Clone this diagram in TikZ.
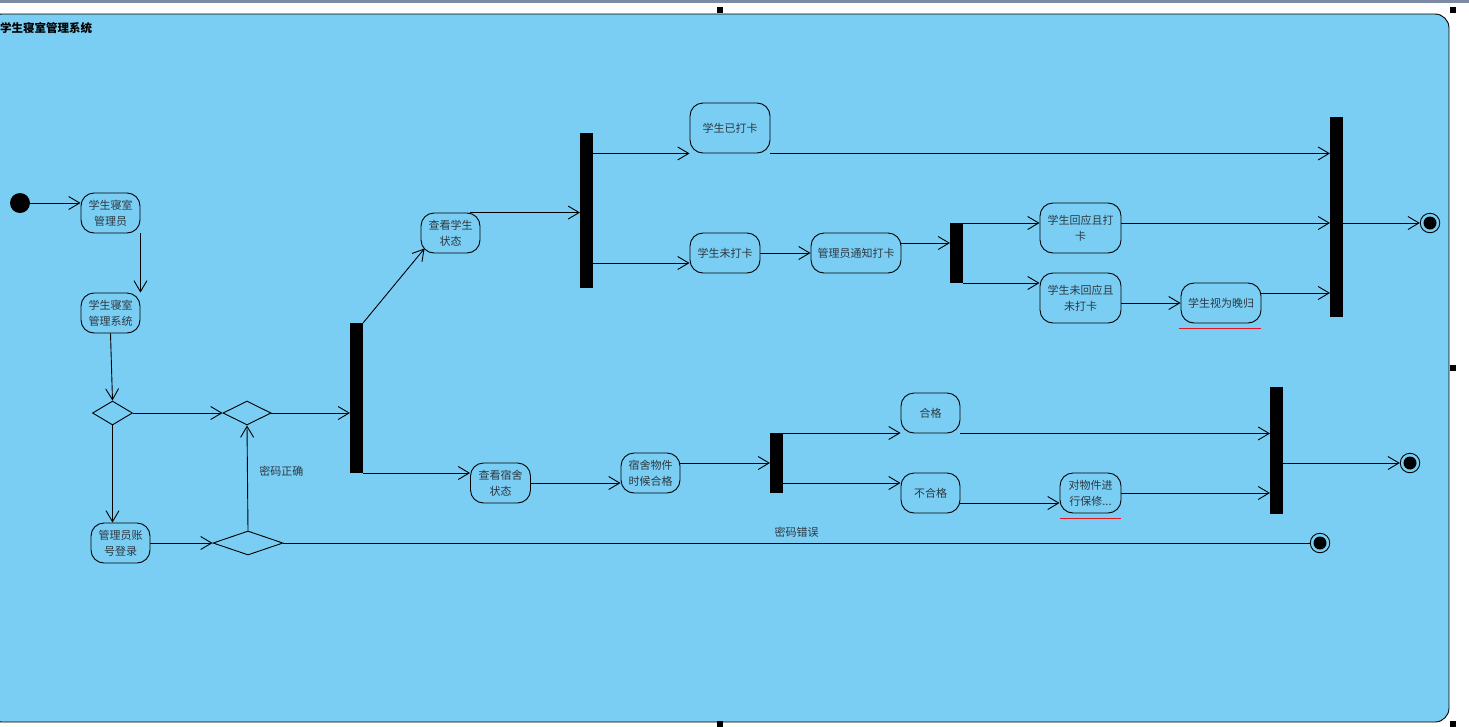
\documentclass[tikz,border=0pt]{standalone}
\usepackage{fontspec}
\newfontfamily\cjk{Noto Sans CJK SC}
\usetikzlibrary{arrows.meta,shapes.geometric,calc}
\definecolor{bgblue}{RGB}{122,206,244}
\definecolor{txtc}{RGB}{45,55,65}
\definecolor{topline}{RGB}{125,138,163}
\definecolor{spellred}{RGB}{230,20,30}
\begin{document}
\begin{tikzpicture}[x=1pt,y=-1pt,
  act/.style={draw, rounded corners=13pt, line width=0.9pt, inner sep=0pt, align=center, font=\cjk\fontsize{11}{16}\selectfont, text=txtc},
  bar/.style={fill=black, draw=none, inner sep=0pt, outer sep=0pt, minimum width=13pt},
  dec/.style={draw, diamond, line width=0.9pt, inner sep=0pt},
  fin/.style={circle, draw, line width=0.9pt, minimum size=19.5pt, inner sep=0pt, path picture={\fill[black] (path picture bounding box.center) circle (6.5pt);}},
  arr/.style={line width=0.9pt, -{Straight Barb[length=11pt,width=13pt]}},
  ln/.style={line width=0.9pt},
  lbl/.style={font=\cjk\fontsize{11}{14}\selectfont, text=txtc, inner sep=0pt},
  handle/.style={fill=black, minimum size=6pt, inner sep=0pt}
]
\useasboundingbox (0,0) rectangle (1469,726);
\fill[white] (0,0) rectangle (1469,726);
\fill[topline] (0,0) rectangle (1469,2.5);
% frame
\draw[fill=bgblue, line width=0.9pt, rounded corners=14pt] (-12,14) rectangle (1449,722);
\node[anchor=west, inner sep=0pt, font=\cjk\bfseries\fontsize{11.5}{14}\selectfont] (title) at (0,28) {学生寝室管理系统};

% handles
\node[handle] (h1) at (720,10) {};
\node[handle] (h2) at (1453,10) {};
\node[handle] (h3) at (1453,368) {};
\node[handle] (h4) at (720,724) {};
\node[handle] (h5) at (1453,724) {};

% start
\node[circle, fill=black, minimum size=20pt, inner sep=0pt] (start) at (20,203) {};
\node[act, minimum width=59pt, minimum height=40pt] (A1) at (110.5,213) {学生寝室\\管理员};
\node[act, minimum width=59pt, minimum height=40pt] (A2) at (110.5,313) {学生寝室\\管理系统};
\node[dec, minimum width=40pt, minimum height=24pt] (D1) at (112.5,413) {};
\node[dec, minimum width=48pt, minimum height=24pt] (D2) at (247,413) {};
\node[act, minimum width=59pt, minimum height=40pt] (A3) at (120.5,543) {管理员账\\号登录};
\node[dec, minimum width=70pt, minimum height=24pt] (D3) at (248,543) {};
\node[bar, minimum height=150pt] (bar1) at (356.5,398) {};
\node[act, minimum width=59pt, minimum height=40pt] (A4) at (450.5,233) {查看学生\\状态};
\node[act, minimum width=60pt, minimum height=40pt] (A5) at (500.5,483) {查看宿舍\\状态};

% upper branch
\node[bar, minimum height=155pt] (bar2) at (586.5,210.5) {};
\node[act, minimum width=80pt, minimum height=50pt] (B1) at (730,128) {学生已打卡};
\node[act, minimum width=70pt, minimum height=40pt] (B2) at (725,253) {学生未打卡};
\node[act, minimum width=90pt, minimum height=40pt] (B2b) at (856,253) {管理员通知打卡};
\node[bar, minimum height=60pt] (bar6) at (956.5,253) {};
\node[act, minimum width=81pt, minimum height=50pt] (B3) at (1080.5,228) {学生回应且打\\卡};
\node[act, minimum width=81pt, minimum height=50pt] (B4) at (1080.5,298) {学生未回应且\\未打卡};
\node[act, minimum width=80pt, minimum height=40pt] (B5) at (1221,303) {学生视为晚归};
\node[bar, minimum height=200pt] (bar3) at (1336.5,217) {};
\node[fin] (F1) at (1430,223) {};

% lower branch
\node[act, minimum width=59pt, minimum height=40pt] (C1) at (650.5,473) {宿舍物件\\时候合格};
\node[bar, minimum height=60pt] (bar5) at (776.5,463) {};
\node[act, minimum width=59pt, minimum height=40pt] (C2) at (930.5,413) {合格};
\node[act, minimum width=59pt, minimum height=40pt] (C3) at (930.5,493) {不合格};
\node[act, minimum width=61pt, minimum height=40pt] (C4) at (1090.5,493) {对物件进\\行保修...};
\node[bar, minimum height=127pt] (bar4) at (1276.5,450.5) {};
\node[fin] (F2) at (1410,463) {};
\node[fin] (F3) at (1320,543) {};

% red underlines
\coordinate (u1a) at ($(B5.south west)+(-2,5)$);
\coordinate (u1b) at ($(B5.south east)+(0,5)$);
\coordinate (u2a) at ($(C4.south west)+(0,5)$);
\coordinate (u2b) at ($(C4.south east)+(0,5)$);
\draw[draw=spellred, line width=1.8pt] (u1a) -- (u1b);
\draw[draw=spellred, line width=1.8pt] (u2a) -- (u2b);

% helper coordinates
\coordinate (a4o) at ($(A4.north east)+(-10,0)$);
\coordinate (b2i) at ($(B2.west)+(0,10)$);
\coordinate (b2bo) at ($(B2b.east)+(0,-10)$);
\coordinate (b3o) at ($(B3.east)+(0,-5)$);
\coordinate (b5o) at ($(B5.east)+(0,-10)$);
\coordinate (c1o) at ($(C1.east)+(0,-10)$);
\coordinate (c3i) at ($(C3.west)+(0,-10)$);
\coordinate (c3o) at ($(C3.east)+(0,10)$);
\coordinate (a4i) at ($(A4.south west)+(4,-5)$);

% connectors
\draw[arr] (start) -- (start -| A1.west);
\draw[arr] (A1.south east) -- (A2.north east);
\draw[arr] (A2.south) -- (D1.north);
\draw[arr] (D1.east) -- (D2.west);
\draw[arr] (D1.south) -- (D1.south |- A3.north);
\draw[arr] (A3.east) -- (D3.west);
\draw[arr] (D3.north) -- node[lbl, pos=0.56, xshift=34pt] (okl) {密码正确} (D2.south);
\draw[arr] (D2.east) -- (D2.east -| bar1.west);
\draw[arr] (bar1.north east) -- (a4i);
\draw[arr] (bar1.south east) -- (bar1.south east -| A5.west);
\draw[ln] (D3.east) -- node[lbl, midway, yshift=11pt] (errl) {密码错误} (F3.west);

\draw[arr] (a4o) -- (a4o -| bar2.west);
\draw[arr] (B1.south west -| bar2.east) -- (B1.south west);
\draw[arr] (b2i -| bar2.east) -- (b2i);
\draw[arr] (B1.south east) -- (B1.south east -| bar3.west);
\draw[arr] (B2.east) -- (B2b.west);
\draw[arr] (b2bo) -- (b2bo -| bar6.west);
\draw[arr] (bar6.north east) -- (bar6.north east -| B3.west);
\draw[arr] (bar6.south east) -- (bar6.south east -| B4.west);
\draw[arr] (b3o) -- (b3o -| bar3.west);
\draw[arr] (B5.west -| B4.east) -- (B5.west);
\draw[arr] (b5o) -- (b5o -| bar3.west);
\draw[arr] (F1 -| bar3.east) -- (F1.west);

\draw[arr] (A5.east) -- (A5.east -| C1.west);
\draw[arr] (c1o) -- (c1o -| bar5.west);
\draw[arr] (bar5.north east) -- (bar5.north east -| C2.west);
\draw[arr] (c3i -| bar5.east) -- (c3i);
\draw[arr] (C2.south east) -- (C2.south east -| bar4.west);
\draw[arr] (c3o) -- (c3o -| C4.west);
\draw[arr] (C4.east) -- (C4.east -| bar4.west);
\draw[arr] (F2 -| bar4.east) -- (F2.west);
\end{tikzpicture}
\end{document}
